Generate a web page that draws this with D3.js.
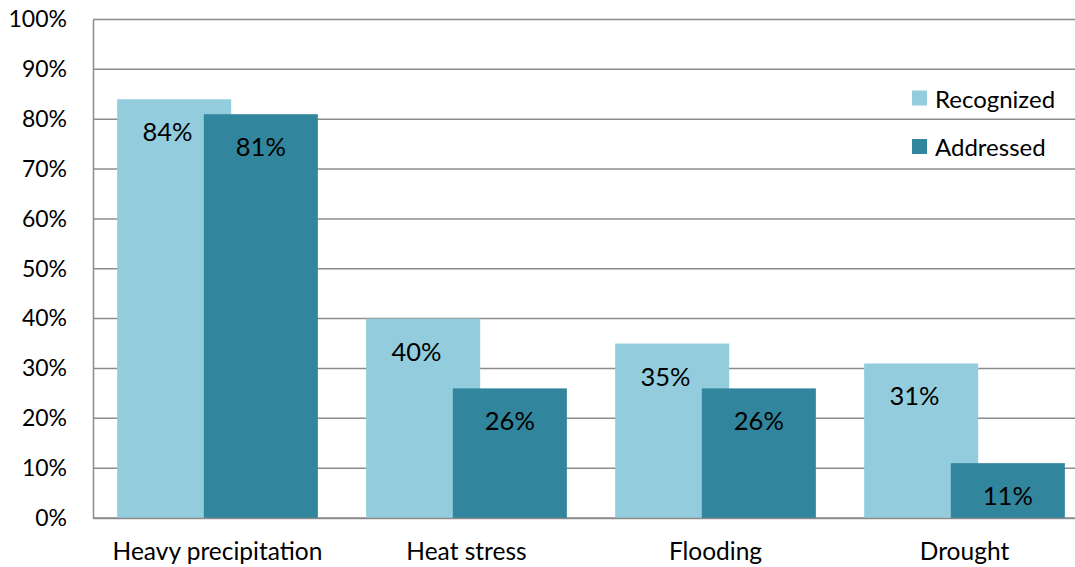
<!DOCTYPE html>
<html>
<head>
<meta charset="utf-8">
<script src="https://cdn.jsdelivr.net/npm/d3@7/dist/d3.min.js"></script>
<style>
  html, body { margin: 0; padding: 0; background: #ffffff; }
  svg { display: block; font-family: "Lato", "Open Sans", sans-serif; }
</style>
</head>
<body>
<svg id="chart" width="1075" height="567"></svg>
<script>
// Climate hazards: share recognized vs. addressed
const categories = ["Heavy precipitation", "Heat stress", "Flooding", "Drought"];
const seriesNames = ["Recognized", "Addressed"];
const recognized = [0.84, 0.40, 0.35, 0.31];
const addressed = [0.81, 0.26, 0.26, 0.11];
const yTicks = [0, 0.1, 0.2, 0.3, 0.4, 0.5, 0.6, 0.7, 0.8, 0.9, 1.0];

const colors = { Recognized: "#93cddd", Addressed: "#31859c" };
const gridColor = "#8c8c8c";

const svg = d3.select("#chart");
const W = 1075, H = 567;
const plot = { left: 93, right: 1089, top: 19.5, bottom: 518 };

const x = d3.scaleBand()
  .domain(categories)
  .range([plot.left, plot.right])
  .padding(0);

const y = d3.scaleLinear()
  .domain([0, 1])
  .range([plot.bottom, plot.top]);

// Bars within a group overlap slightly; the second series sits on top.
const barW = x.bandwidth() * 0.458;
const barStep = barW * 0.76;
const groupW = barW + barStep;
const barX = (cat, s) => x(cat) + (x.bandwidth() - groupW) / 2 + s * barStep;

// Horizontal gridlines
svg.append("g")
  .selectAll("line")
  .data(yTicks)
  .join("line")
  .attr("x1", plot.left)
  .attr("x2", W)
  .attr("y1", d => y(d))
  .attr("y2", d => y(d))
  .attr("stroke", gridColor)
  .attr("stroke-width", 1.5);

// Y axis labels
const yAxis = d3.axisLeft(y)
  .tickValues(yTicks)
  .tickFormat(d3.format(".0%"))
  .tickSize(0)
  .tickPadding(26);
const yg = svg.append("g")
  .attr("transform", `translate(${plot.left},0)`)
  .call(yAxis);
yg.select(".domain").attr("stroke", gridColor).attr("stroke-width", 1.5);
yg.selectAll("text")
  .attr("font-family", "Lato, sans-serif")
  .attr("font-size", 23)
  .attr("fill", "#000");

// Bars
const rows = categories.map((c, i) => ({ cat: c, values: [recognized[i], addressed[i]] }));

seriesNames.forEach((name, s) => {
  svg.append("g")
    .selectAll("rect")
    .data(rows)
    .join("rect")
    .attr("x", d => barX(d.cat, s))
    .attr("y", d => y(d.values[s]))
    .attr("width", barW)
    .attr("height", d => y(0) - y(d.values[s]))
    .attr("fill", colors[name]);
});

// Data labels
seriesNames.forEach((name, s) => {
  svg.append("g")
    .selectAll("text")
    .data(rows)
    .join("text")
    .attr("x", d => s === 0 ? barX(d.cat, 0) + barStep / 2 + 7 : barX(d.cat, 1) + barW / 2)
    .attr("y", d => y(d.values[s]) + 32)
    .attr("text-anchor", "middle")
    .attr("dominant-baseline", "central")
    .attr("font-size", 25.5)
    .attr("fill", "#000")
    .text(d => d3.format(".0%")(d.values[s]));
});

// X axis baseline and category labels
const xAxis = d3.axisBottom(x).tickSize(0).tickPadding(25);
const xg = svg.append("g")
  .attr("transform", `translate(0,${plot.bottom})`)
  .call(xAxis);
xg.select(".domain").attr("stroke", gridColor).attr("stroke-width", 1.5);
xg.selectAll("text")
  .attr("font-family", "Lato, sans-serif")
  .attr("font-size", 24.5)
  .attr("fill", "#000");

// Legend
const legend = svg.append("g").attr("transform", "translate(912,0)");
const legendY = [98, 146.5];
seriesNames.forEach((name, i) => {
  legend.append("rect")
    .attr("x", 0)
    .attr("y", legendY[i] - 7.5)
    .attr("width", 15)
    .attr("height", 15)
    .attr("fill", colors[name]);
  legend.append("text")
    .attr("x", 23)
    .attr("y", legendY[i])
    .attr("dominant-baseline", "central")
    .attr("font-size", 24)
    .attr("fill", "#000")
    .text(name);
});
</script>
</body>
</html>
